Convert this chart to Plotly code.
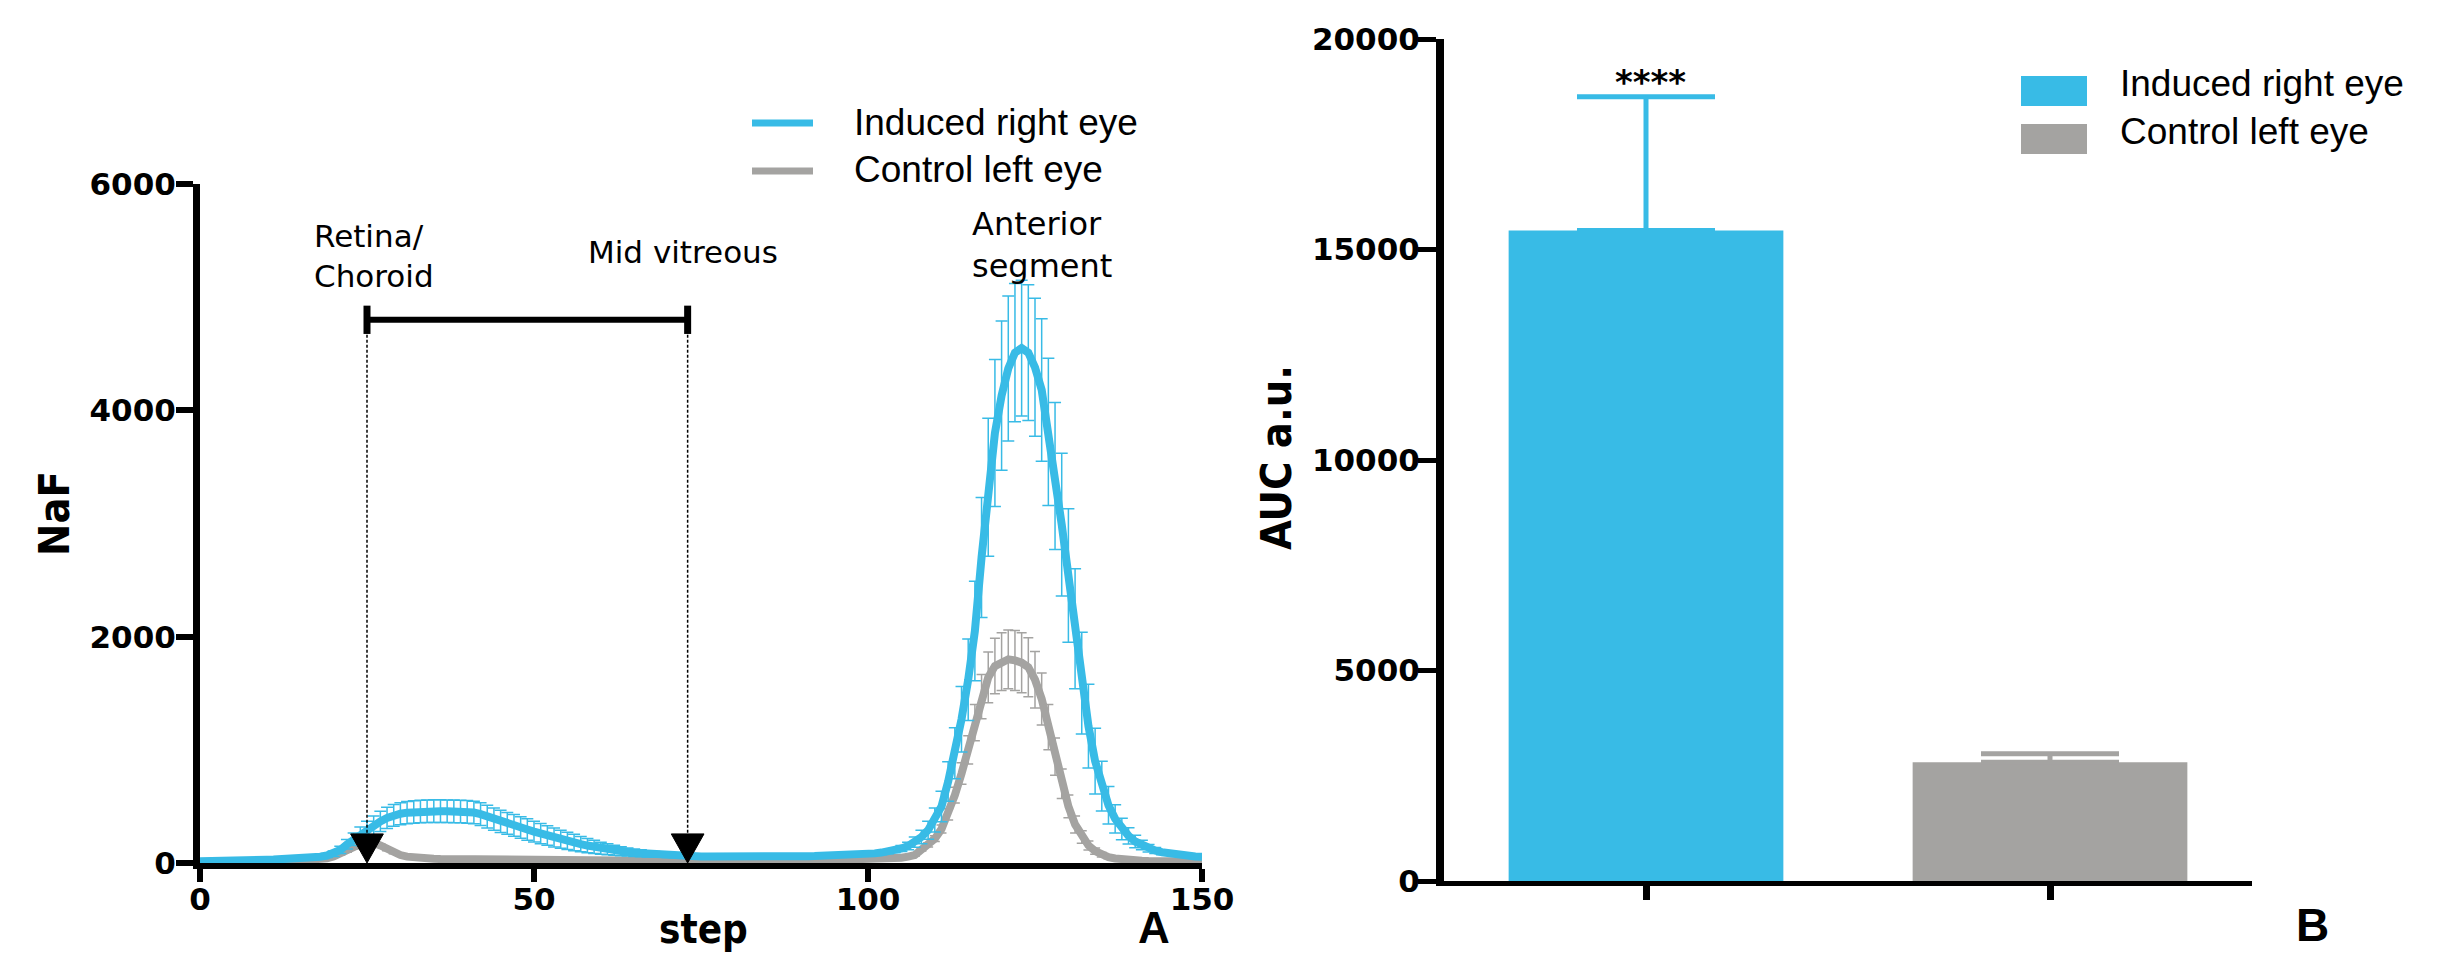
import plotly.graph_objects as go

# ---------------- data ----------------
steps = list(range(0, 151))

induced_mean = [
    15, 18, 20, 22, 23, 24, 25, 26, 27, 28,
    29, 30, 32, 34, 36, 39, 43, 48, 55, 66,
    82, 115, 165, 210, 250, 290, 330, 368, 398, 420,
    435, 445, 451, 455, 457, 458, 458, 457, 456, 455,
    452, 446, 432, 410, 388, 368, 350, 332, 314, 296,
    278, 260, 243, 226, 210, 195, 181, 167, 154, 142,
    131, 121, 112, 104, 97, 91, 86, 81, 77, 73,
    70, 67, 64, 62, 60, 58, 57, 56, 56, 55,
    55, 55, 55, 55, 56, 56, 57, 57, 58, 58,
    59, 60, 61, 62, 63, 64, 66, 69, 72, 76,
    80, 85, 92, 100, 112, 128, 150, 185, 230, 290,
    380, 500, 720, 970, 1270, 1620, 2050, 2700, 3320, 3800,
    4130, 4370, 4510, 4550, 4510, 4380, 4180, 3810, 3420, 2990,
    2540, 2070, 1590, 1210, 900, 680, 510, 390, 300, 240,
    190, 160, 130, 110, 95, 85, 75, 68, 62, 58,
    55,
]

induced_sem = [
    3, 3, 4, 4, 4, 4, 5, 5, 5, 5,
    6, 6, 6, 7, 7, 8, 9, 11, 14, 18,
    24, 32, 42, 55, 68, 78, 85, 90, 94, 96,
    98, 99, 100, 100, 100, 100, 100, 100, 100, 100,
    100, 100, 100, 100, 99, 98, 97, 96, 95, 94,
    92, 90, 87, 84, 80, 76, 72, 68, 63, 58,
    53, 48, 44, 40, 36, 33, 30, 27, 25, 23,
    21, 19, 18, 16, 15, 14, 13, 12, 12, 11,
    11, 11, 10, 10, 10, 10, 10, 10, 10, 10,
    10, 10, 10, 11, 11, 11, 12, 12, 13, 13,
    14, 15, 16, 18, 22, 27, 34, 45, 60, 80,
    105, 135, 175, 225, 290, 360, 440, 530, 610, 650,
    660, 640, 610, 600, 600, 610, 630, 650, 650, 630,
    590, 530, 450, 370, 290, 220, 165, 125, 95, 72,
    55, 42, 33, 26, 21, 17, 14, 12, 10, 9,
    8,
]

control_mean = [
    8, 10, 10, 11, 11, 12, 12, 12, 13, 13,
    14, 14, 15, 16, 17, 19, 22, 26, 32, 42,
    58, 80, 108, 140, 168, 182, 178, 155, 122, 92,
    70, 56, 47, 42, 39, 37, 35, 34, 33, 32,
    31, 30, 30, 29, 29, 28, 28, 27, 27, 26,
    26, 25, 25, 24, 24, 23, 23, 22, 22, 22,
    21, 21, 21, 20, 20, 20, 19, 19, 19, 18,
    18, 18, 18, 17, 17, 17, 17, 16, 16, 16,
    16, 16, 16, 16, 16, 16, 16, 16, 17, 17,
    17, 18, 18, 19, 19, 20, 21, 22, 23, 24,
    26, 28, 31, 35, 40, 47, 56, 70, 118, 160,
    215, 300, 430, 600, 790, 1000, 1240, 1470, 1640, 1740,
    1780, 1800, 1790, 1770, 1730, 1620, 1450, 1200, 940, 700,
    500, 340, 230, 155, 105, 72, 52, 40, 32, 27,
    23, 20, 18, 17, 16, 15, 15, 14, 14, 14,
    14,
]

control_sem = [
    2, 2, 2, 2, 2, 2, 2, 2, 2, 2,
    2, 2, 2, 2, 3, 3, 3, 4, 5, 6,
    8, 10, 13, 16, 18, 19, 18, 16, 13, 10,
    8, 6, 5, 5, 4, 4, 4, 4, 4, 4,
    3, 3, 3, 3, 3, 3, 3, 3, 3, 3,
    3, 3, 3, 3, 3, 3, 3, 3, 3, 3,
    3, 3, 3, 3, 3, 3, 3, 3, 3, 3,
    3, 3, 3, 3, 3, 3, 3, 3, 3, 3,
    3, 3, 3, 3, 3, 3, 3, 3, 3, 3,
    3, 3, 3, 3, 3, 3, 3, 3, 3, 3,
    3, 4, 4, 5, 6, 7, 8, 10, 13, 18,
    25, 35, 50, 70, 95, 125, 160, 195, 225, 245,
    255, 260, 265, 265, 260, 250, 230, 200, 165, 130,
    100, 75, 55, 40, 28, 20, 14, 10, 8, 7,
    6, 5, 5, 4, 4, 4, 4, 4, 3, 3,
    3,
]

series_names = ["Induced right eye", "Control left eye"]

# AUC panel
auc_groups = ["Induced right eye", "Control left eye"]
auc_mean = [15450, 2820]
auc_sem = [3180, 200]
auc_signif = "****"

# region markers on the profile (step positions) and bracket height
region_marks = [25, 73]
bracket_level = 4800

x_ticks = [0, 50, 100, 150]
y_ticks = [0, 2000, 4000, 6000]
y2_ticks = [0, 5000, 10000, 15000, 20000]

# ---------------- style ----------------
W, H = 2450, 955
BLUE = "#38BBE6"
GRAY = "#A4A3A1"
TICKFONT = dict(family="DejaVu Sans", size=31, color="black", weight="bold")
TITLEFONT = "Liberation Sans Narrow, DejaVu Sans Condensed, Liberation Sans"


def px(x):
    return x / W


def py(y):
    return 1 - y / H


fig = go.Figure()

# profile curves
fig.add_trace(go.Scatter(
    x=steps, y=control_mean, mode="lines", name=series_names[1],
    line=dict(color=GRAY, width=8),
    error_y=dict(type="data", array=control_sem, visible=True, color=GRAY, thickness=1.5, width=5),
    showlegend=False, xaxis="x", yaxis="y"))
fig.add_trace(go.Scatter(
    x=steps, y=induced_mean, mode="lines", name=series_names[0],
    line=dict(color=BLUE, width=8),
    error_y=dict(type="data", array=induced_sem, visible=True, color=BLUE, thickness=1.5, width=6),
    showlegend=False, xaxis="x", yaxis="y"))

# bracket between region marks
cap_half = 125
fig.add_trace(go.Scatter(
    x=[region_marks[0], region_marks[1]], y=[bracket_level, bracket_level],
    mode="lines", line=dict(color="black", width=6), showlegend=False, hoverinfo="skip"))
cap_x, cap_y = [], []
for m in region_marks:
    cap_x += [m, m, None]
    cap_y += [bracket_level - cap_half, bracket_level + cap_half, None]
fig.add_trace(go.Scatter(x=cap_x, y=cap_y, mode="lines",
                         line=dict(color="black", width=7), showlegend=False, hoverinfo="skip"))

# dotted drop lines and triangles
tri_half_w = 2.45
tri_h = 257
drop_x, drop_y = [], []
for m in region_marks:
    drop_x += [m, m, None]
    drop_y += [bracket_level, tri_h, None]
fig.add_trace(go.Scatter(x=drop_x, y=drop_y, mode="lines",
                         line=dict(color="black", width=1.5, dash="3px,2px"),
                         showlegend=False, hoverinfo="skip"))
for m in region_marks:
    fig.add_trace(go.Scatter(
        x=[m - tri_half_w, m + tri_half_w, m, m - tri_half_w],
        y=[tri_h, tri_h, 0, tri_h], mode="lines", fill="toself",
        fillcolor="black", line=dict(color="black", width=1),
        showlegend=False, hoverinfo="skip"))

# AUC bars
bar_colors = [BLUE, GRAY]
for i in range(len(auc_groups)):
    fig.add_trace(go.Bar(
        x=[auc_groups[i]], y=[auc_mean[i]], width=0.68, name=auc_groups[i],
        marker=dict(color=bar_colors[i], line=dict(width=0)),
        error_y=dict(type="data", symmetric=False, array=[auc_sem[i]], arrayminus=[0],
                     color=bar_colors[i], thickness=5, width=69),
        showlegend=False, xaxis="x2", yaxis="y2"))

axis_common = dict(showline=True, linecolor="black", ticks="outside", tickcolor="black",
                   showgrid=False, zeroline=False, tickfont=TICKFONT, automargin=False,
                   tickformat="d")

fig.update_layout(
    template="none",
    width=W, height=H, autosize=False,
    margin=dict(l=0, r=0, t=0, b=0, pad=0),
    paper_bgcolor="white", plot_bgcolor="white",
    barmode="overlay",
    xaxis=dict(domain=[px(200), px(1202)], range=[0, 150], tickvals=x_ticks,
               linewidth=6, ticklen=13, tickwidth=6, anchor="y", ticklabelstandoff=-9,
               **axis_common),
    yaxis=dict(domain=[py(863), py(184)], range=[0, 6000], tickvals=y_ticks,
               linewidth=7, ticklen=17, tickwidth=6, anchor="x", ticklabelstandoff=-6,
               **axis_common),
    xaxis2=dict(domain=[px(1444), px(2252)], range=[-0.5, 1.5], type="category",
                categoryorder="array", categoryarray=auc_groups, showticklabels=False,
                linewidth=5, ticklen=14, tickwidth=7, anchor="y2", **axis_common),
    yaxis2=dict(domain=[py(881), py(39)], range=[0, 20000], tickvals=y2_ticks,
                linewidth=8, ticklen=18, tickwidth=5, anchor="x2", ticklabelstandoff=-8,
                **axis_common),
)

ann = []


def text(t, x, y, size, family, xanchor="left", yanchor="middle", angle=0, align="left"):
    ann.append(dict(text=t, x=px(x), y=py(y), xref="paper", yref="paper",
                    xanchor=xanchor, yanchor=yanchor, showarrow=False, textangle=angle,
                    align=align, font=dict(family=family, size=size, color="black")))


# region labels
text("Retina/<br>Choroid", 312, 256, 31, "DejaVu Sans")
text("Mid vitreous", 683, 252, 31, "DejaVu Sans", xanchor="center")
text("Anterior<br>segment", 970, 245, 32, "DejaVu Sans")

# legends (left: lines, right: boxes)
legend_colors = [BLUE, GRAY]
shapes = []
for i, nm in enumerate(series_names):
    yy = 123 + 48 * i
    shapes.append(dict(type="line", xref="paper", yref="paper", x0=px(752), x1=px(813),
                       y0=py(yy), y1=py(yy), line=dict(color=legend_colors[i], width=7)))
    text(nm, 852, yy - 1, 37, "Liberation Sans, Arial")
for i, nm in enumerate(auc_groups):
    y0 = 76 + 48 * i
    shapes.append(dict(type="rect", xref="paper", yref="paper", x0=px(2021), x1=px(2087),
                       y0=py(y0 + 30), y1=py(y0), fillcolor=bar_colors[i], line=dict(width=0)))
    text(nm, 2118, y0 + 8, 37, "Liberation Sans, Arial")

# significance
text("<b>" + auc_signif + "</b>", 1650, 82, 34, "DejaVu Sans", xanchor="center")

# axis titles and panel letters
text("<b>NaF</b>", 54, 514, 43, TITLEFONT, xanchor="center", angle=-90)
text("<b>AUC a.u.</b>", 1276, 458, 43, TITLEFONT, xanchor="center", angle=-90)
text("<b>step</b>", 703, 954, 40, TITLEFONT, xanchor="center", yanchor="bottom")
text("<b>A</b>", 1154, 954, 44, "Liberation Sans, Arial", xanchor="center", yanchor="bottom")
text("<b>B</b>", 2312, 953, 46, "Liberation Sans, Arial", xanchor="center", yanchor="bottom")

fig.update_layout(annotations=ann, shapes=shapes)

fig.write_html(
    "out.html",
    config={"displayModeBar": False},
    post_script="document.body.style.margin='0px';document.body.style.overflow='hidden';",
)
